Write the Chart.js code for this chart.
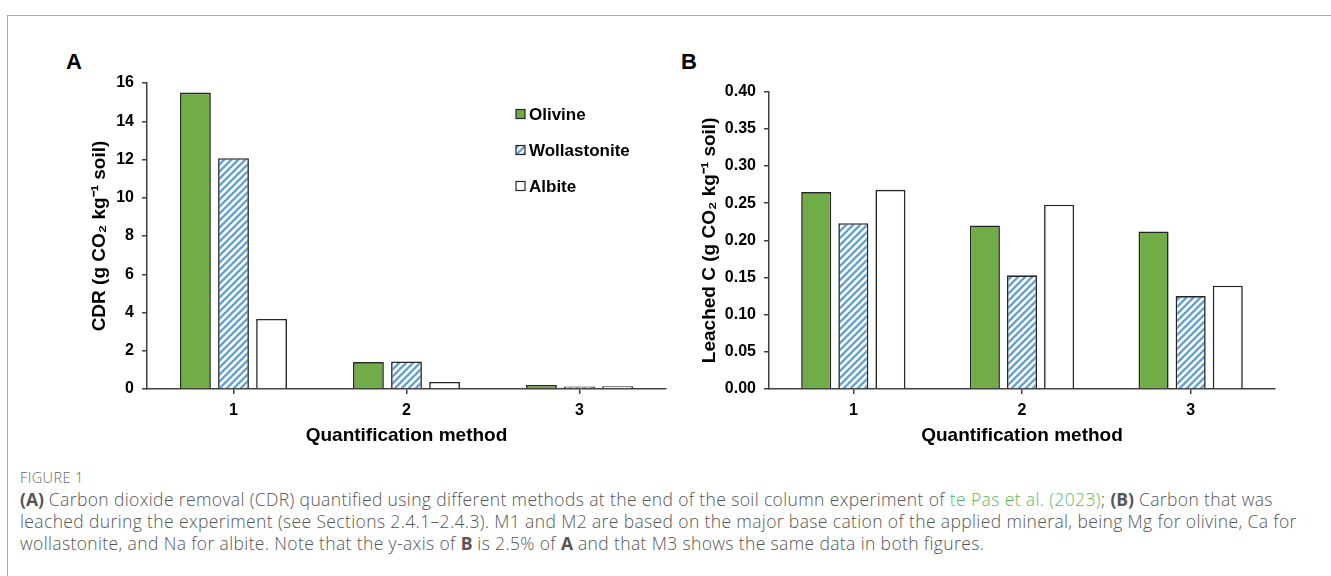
<!DOCTYPE html>
<html><head><meta charset="utf-8">
<script src="https://cdn.jsdelivr.net/npm/chart.js@4.4.1/dist/chart.umd.min.js"></script>
<style>
html,body{margin:0;padding:0;background:#fff;width:1331px;height:576px;overflow:hidden;font-family:'Liberation Sans',Arial,sans-serif;}
#frame{position:absolute;left:7px;top:15px;width:1340px;height:600px;border-top:1.5px solid #a8a8a8;border-left:1.5px solid #a8a8a8;}
canvas{position:absolute;}
#cA{left:40px;top:50px;}
#cB{left:650px;top:50px;}
.plab{position:absolute;font-weight:bold;font-size:22px;color:#000;line-height:22px;}
#cap{position:absolute;left:20px;top:467px;color:#555;font-family:'Open Sans','Noto Sans',sans-serif;font-weight:300;white-space:nowrap;}
#cap .fig{font-size:14.5px;color:#666;line-height:21px;letter-spacing:0.4px;}
#cap .ln{font-size:17.5px;line-height:22px;letter-spacing:0.37px;}
#cap b{font-weight:700;color:#555;letter-spacing:0;}
#cap .g{color:#5cb85c;}
</style></head>
<body>
<div id="frame"></div>
<div class="plab" style="left:66px;top:51px;">A</div>
<div class="plab" style="left:681px;top:51px;">B</div>
<canvas id="cA" width="640" height="410"></canvas>
<canvas id="cB" width="680" height="410"></canvas>
<div id="cap">
<div class="fig">FIGURE 1</div>
<div class="ln"><b>(A)</b> Carbon dioxide removal (CDR) quantified using different methods at the end of the soil column experiment of <span class="g">te Pas et al. (2023)</span>; <b>(B)</b> Carbon that was</div>
<div class="ln">leached during the experiment (see Sections 2.4.1–2.4.3). M1 and M2 are based on the major base cation of the applied mineral, being Mg for olivine, Ca for</div>
<div class="ln">wollastonite, and Na for albite. Note that the y-axis of <b>B</b> is 2.5% of <b>A</b> and that M3 shows the same data in both figures.</div>
</div>
<script>
// ---- data ----
const categories = ['1', '2', '3'];
const seriesNames = ['Olivine', 'Wollastonite', 'Albite'];
const olivineCDR = [15.50, 1.41, 0.212];
const wollastoniteCDR = [12.07, 1.44, 0.125];
const albiteCDR = [3.66, 0.37, 0.139];
const olivineLeached = [0.265, 0.220, 0.212];
const wollastoniteLeached = [0.223, 0.153, 0.125];
const albiteLeached = [0.268, 0.248, 0.139];
const titleA = 'CDR (g CO₂ kg⁻¹ soil)';
const titleB = 'Leached C (g CO₂ kg⁻¹ soil)';
const titleX = 'Quantification method';

// ---- styles ----
const green = '#70ad47';
const edge = '#262626';
const axisCol = '#404040';
function stripePattern() {
  const s = 7;
  const c = document.createElement('canvas');
  c.width = s; c.height = s;
  const x = c.getContext('2d');
  x.fillStyle = '#fff'; x.fillRect(0, 0, s, s);
  x.strokeStyle = '#62a0d8'; x.lineWidth = 2.3;
  x.beginPath();
  x.moveTo(-1, s + 1); x.lineTo(s + 1, -1);
  x.moveTo(-1, 1); x.lineTo(1, -1);
  x.moveTo(s - 1, s + 1); x.lineTo(s + 1, s - 1);
  x.stroke();
  return x.createPattern(c, 'repeat');
}
const stripes = stripePattern();
const fills = [green, stripes, '#ffffff'];

function makeDatasets(arrs) {
  return arrs.map((d, i) => ({
    label: seriesNames[i], data: d,
    backgroundColor: fills[i], borderColor: edge, borderWidth: 1.6,
    categoryPercentage: 0.66, barPercentage: 0.81
  }));
}

const tickFont = {family: "'Liberation Sans', Arial, sans-serif", size: 16, weight: 'bold'};
const titleFont = {family: "'Liberation Sans', Arial, sans-serif", size: 19, weight: 'bold'};

const legendInside = {
  id: 'legendInside',
  afterDraw(chart) {
    const ctx = chart.ctx;
    const x0 = 476, ys = [64, 100, 136];
    ctx.save();
    chart.data.datasets.forEach((ds, i) => {
      ctx.fillStyle = ds.backgroundColor;
      ctx.fillRect(x0, ys[i] - 4.5, 9, 9);
      ctx.strokeStyle = edge; ctx.lineWidth = 1.2;
      ctx.strokeRect(x0, ys[i] - 4.5, 9, 9);
      ctx.fillStyle = '#000';
      ctx.font = "bold 17px 'Liberation Sans', Arial, sans-serif";
      ctx.textBaseline = 'middle'; ctx.textAlign = 'left';
      ctx.fillText(ds.label, x0 + 13, ys[i] + 1);
    });
    ctx.restore();
  }
};

function makeChart(id, datasets, yMax, yStep, decimals, yTitle, yWidth, pad, plugins) {
  return new Chart(document.getElementById(id), {
    type: 'bar',
    data: {labels: categories, datasets: datasets},
    plugins: plugins,
    options: {
      responsive: false, animation: false, devicePixelRatio: 1,
      layout: {padding: pad},
      plugins: {legend: {display: false}, tooltip: {enabled: false}},
      scales: {
        x: {
          grid: {display: true, offset: false, drawOnChartArea: false, drawTicks: true, tickLength: 5, color: axisCol, lineWidth: 1.5},
          border: {display: true, color: axisCol, width: 1.5},
          ticks: {font: tickFont, color: '#000', padding: 7},
          title: {display: true, text: titleX, font: titleFont, color: '#000', padding: 0},
          afterFit(s) { s.height = 58.4; }
        },
        y: {
          min: 0, max: yMax,
          grid: {display: true, drawOnChartArea: false, drawTicks: true, tickLength: 5, color: axisCol, lineWidth: 1.5},
          border: {display: true, color: axisCol, width: 1.5},
          ticks: {stepSize: yStep, font: tickFont, color: '#000', padding: 8,
                  callback: v => Number(v).toFixed(decimals)},
          title: {display: true, text: yTitle, font: titleFont, color: '#000', padding: 0},
          afterFit(s) { s.width = yWidth; }
        }
      }
    }
  });
}

makeChart('cA', makeDatasets([olivineCDR, wollastoniteCDR, albiteCDR]), 16, 2, 0, titleA, 58.4,
  {left: 48.6, right: 14, top: 33, bottom: 12.6}, [legendInside]);
makeChart('cB', makeDatasets([olivineLeached, wollastoniteLeached, albiteLeached]), 0.4, 0.05, 2, titleB, 70.4,
  {left: 48.6, right: 55, top: 41.7, bottom: 12.6}, []);
</script>
</body></html>
